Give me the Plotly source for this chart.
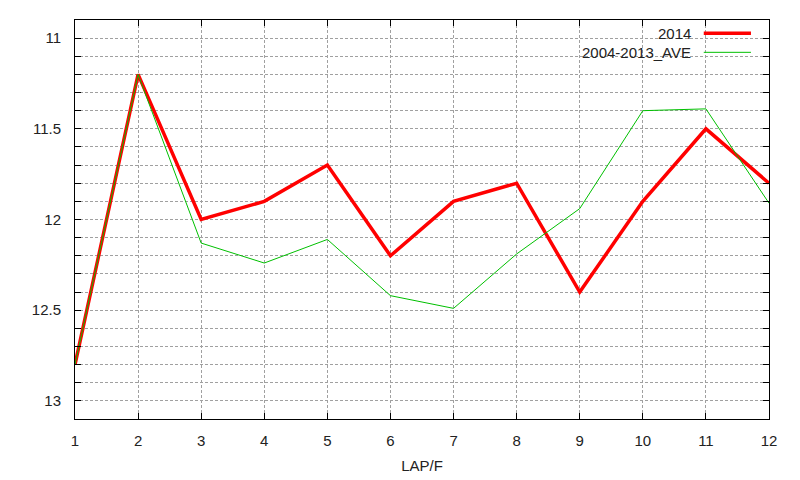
import plotly.graph_objects as go

# ラップ番号と各ラップのタイム
laps = [1, 2, 3, 4, 5, 6, 7, 8, 9, 10, 11, 12]
lap_2014 = [12.8, 11.2, 12.0, 11.9, 11.7, 12.2, 11.9, 11.8, 12.4, 11.9, 11.5, 11.8]
lap_ave = [12.8, 11.2, 12.13, 12.24, 12.11, 12.42, 12.49, 12.19, 11.94, 11.4, 11.39, 11.91]

FONT = 'Liberation Sans, Arial, sans-serif'
GRID = '#a0a0a0'

fig = go.Figure()

fig.add_trace(go.Scatter(
    x=laps, y=lap_2014, mode='lines', name='2014',
    line=dict(color='#ff0000', width=3.5)
))
fig.add_trace(go.Scatter(
    x=laps, y=lap_ave, mode='lines', name='2004-2013_AVE',
    line=dict(color='#00c000', width=1)
))

# gnuplot風の凡例（テキストが左、線見本が右）
fig.add_shape(type='rect', xref='paper', yref='paper',
              x0=0.70, x1=0.985, y0=0.895, y1=0.995,
              fillcolor='white', line=dict(width=0), layer='between')
legend_rows = [('2014', '#ff0000', 3.5, 0.967), ('2004-2013_AVE', '#00c000', 1, 0.919)]
for label, color, width, ypos in legend_rows:
    fig.add_annotation(x=0.89, y=ypos, xref='paper', yref='paper',
                       text=label, showarrow=False, xanchor='right', yanchor='middle',
                       font=dict(family=FONT, size=15, color='#222222'))
    fig.add_shape(type='line', xref='paper', yref='paper',
                  x0=0.906, x1=0.974, y0=ypos, y1=ypos,
                  line=dict(color=color, width=width))

fig.update_layout(
    width=800, height=480,
    margin=dict(l=75, r=31, t=20, b=61),
    paper_bgcolor='white', plot_bgcolor='white',
    showlegend=False,
    font=dict(family=FONT, size=15, color='#222222'),
    xaxis=dict(
        range=[1, 12], tickvals=laps, ticktext=[str(v) for v in laps],
        showgrid=True, gridcolor=GRID, griddash='3px,2px', gridwidth=1,
        ticks='inside', ticklen=6, tickcolor='black',
        showline=True, linecolor='black', linewidth=1, mirror='ticks',
        zeroline=False, ticklabelstandoff=8, layer='above traces',
        automargin=False,
        title=dict(text='LAP/F', font=dict(size=15), standoff=12),
    ),
    yaxis=dict(
        range=[13.1, 10.9], tickvals=[11, 11.5, 12, 12.5, 13],
        ticktext=['11', '11.5', '12', '12.5', '13'],
        showgrid=True, gridcolor=GRID, griddash='3px,2px', gridwidth=1,
        ticks='inside', ticklen=6, tickcolor='black',
        minor=dict(dtick=0.1, tick0=11, showgrid=True, gridcolor=GRID,
                   griddash='3px,2px', ticks='inside', ticklen=6, tickcolor='black'),
        showline=True, linecolor='black', linewidth=1, mirror='ticks',
        zeroline=False, ticklabelstandoff=10, automargin=False,
    ),
)

# ページ余白をなくして図を左上に合わせる
fig.write_html('out.html', config={'displayModeBar': False},
               post_script="document.body.style.margin='0';")
